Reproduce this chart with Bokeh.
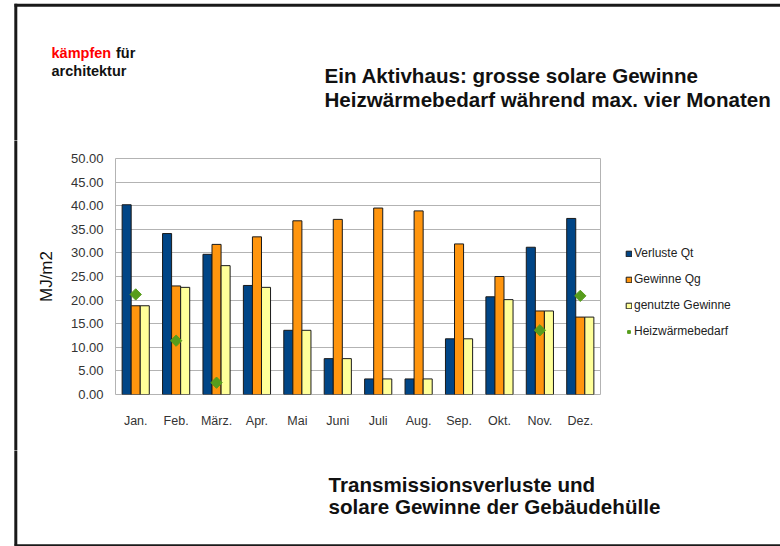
import math
from bokeh.plotting import figure
from bokeh.layouts import column, row
from bokeh.models import (FactorRange, Range1d, Legend, LegendItem,
                          NumeralTickFormatter, SingleIntervalTicker)
from bokeh.core.properties import value
from bokeh.transform import dodge
from bokeh.embed import file_html
from bokeh.resources import INLINE

months = ["Jan.", "Feb.", "März.", "Apr.", "Mai", "Juni", "Juli", "Aug.",
          "Sep.", "Okt.", "Nov.", "Dez."]
verluste = [40.2, 34.1, 29.7, 23.1, 13.6, 7.6, 3.3, 3.3, 11.8, 20.7, 31.2, 37.3]
gewinne = [18.8, 23.0, 31.8, 33.4, 36.8, 37.1, 39.5, 38.9, 31.9, 25.0, 17.7, 16.4]
genutzt = [18.8, 22.7, 27.3, 22.7, 13.6, 7.6, 3.3, 3.3, 11.8, 20.1, 17.7, 16.4]
heiz_months = ["Jan.", "Feb.", "März.", "Nov.", "Dez."]
heiz_values = [21.2, 11.4, 2.5, 13.6, 20.9]

series_names = ["Verluste Qt", "Gewinne Qg", "genutzte Gewinne", "Heizwärmebedarf"]
series_colors = ["#004586", "#ff950e", "#ffff99", "#579d1c"]
header_texts = ["kämpfen", "für", "architektur",
                "Ein Aktivhaus: grosse solare Gewinne",
                "Heizwärmebedarf während max. vier Monaten"]
footer_texts = ["Transmissionsverluste und", "solare Gewinne der Gebäudehülle"]

FONT = "Liberation Sans"
BORDER = "#1a1a1a"
BAR_LINE = "#1a1a1a"
BIG = "20.6px"
W = 780
H_HEAD = 140
H_MID = 310
H_FOOT = 96
STRIP = 20
FRAME_L, FRAME_R, FRAME_T, FRAME_B = 115, 600, 158, 394


def canvas_fig(width, height):
    f = figure(width=width, height=height, x_range=Range1d(0, width),
               y_range=Range1d(height, 0), output_backend="svg",
               toolbar_location=None, x_axis_location=None,
               y_axis_location=None, min_border=0, frame_align=False)
    f.grid.visible = False
    f.outline_line_color = None
    f.background_fill_color = "white"
    f.border_fill_color = "white"
    return f


# ---- header ----
head = canvas_fig(W, H_HEAD)
head.segment(x0=[14, 15.3], y0=[4.7, 3.2], x1=[W, 15.3], y1=[4.7, H_HEAD + 3],
             line_color=BORDER, line_width=3)
head.text(x=[51], y=[52.3], text=[header_texts[0]], text_font=value(FONT),
          text_font_size=value("14.5px"), text_font_style="bold",
          text_color="#ff0000", text_baseline="alphabetic")
head.text(x=[115.5, 51], y=[52.3, 70.3], text=header_texts[1:3],
          text_font=value(FONT), text_font_size=value("14.5px"),
          text_font_style="bold", text_color="#111111",
          text_baseline="alphabetic")
head.text(x=[324, 324], y=[74.5, 99], text=header_texts[3:5],
          text_font=value(FONT), text_font_size=value(BIG),
          text_font_style="bold", text_color="#111111",
          text_baseline="alphabetic")

# ---- left strip (frame border) ----
strip = canvas_fig(STRIP, H_MID)
strip.segment(x0=[15.3], y0=[-3], x1=[15.3], y1=[H_MID + 3],
              line_color=BORDER, line_width=3)

# ---- chart ----
p = figure(width=FRAME_R + 1 - STRIP, height=H_MID, x_range=FactorRange(*months),
           y_range=Range1d(0, 50), output_backend="svg", toolbar_location=None,
           min_border_left=FRAME_L - STRIP, min_border_right=1,
           min_border_top=FRAME_T - H_HEAD,
           min_border_bottom=H_HEAD + H_MID - FRAME_B, frame_align=False)
p.background_fill_color = "white"
p.border_fill_color = "white"
p.outline_line_color = "#b3b3b3"
p.outline_line_width = 1

bw = 0.224
common = dict(width=bw, line_color=BAR_LINE, line_width=1)
p.vbar(x=dodge("x", -bw, range=p.x_range), top="y",
       source=dict(x=months, y=verluste), fill_color=series_colors[0], **common)
p.vbar(x=dodge("x", 0, range=p.x_range), top="y",
       source=dict(x=months, y=gewinne), fill_color=series_colors[1], **common)
p.vbar(x=dodge("x", bw, range=p.x_range), top="y",
       source=dict(x=months, y=genutzt), fill_color=series_colors[2], **common)
p.scatter(x="x", y="y", source=dict(x=heiz_months, y=heiz_values),
          marker="square", angle=math.pi / 4, size=8,
          fill_color=series_colors[3], line_color=series_colors[3])

p.xgrid.grid_line_color = None
p.ygrid.grid_line_color = "#b3b3b3"
p.ygrid.grid_line_width = 1
p.yaxis.ticker = SingleIntervalTicker(interval=5)
p.yaxis.formatter = NumeralTickFormatter(format="0.00")
for ax in (p.xaxis[0], p.yaxis[0]):
    ax.axis_line_color = None
    ax.major_tick_line_color = None
    ax.major_tick_out = 0
    ax.major_tick_in = 0
    ax.minor_tick_line_color = None
    ax.minor_tick_out = 0
    ax.minor_tick_in = 0
    ax.major_label_text_font = FONT
    ax.major_label_text_color = "#333333"
p.yaxis.major_label_text_font_size = "13px"
p.xaxis.major_label_text_font_size = "12.5px"
p.yaxis.major_label_standoff = 12
p.xaxis.major_label_standoff = 19
p.yaxis.axis_label = "MJ/m2"
p.yaxis.axis_label_text_font = FONT
p.yaxis.axis_label_text_font_size = "17px"
p.yaxis.axis_label_text_font_style = "normal"
p.yaxis.axis_label_text_color = "#111111"
p.yaxis.axis_label_standoff = 12

# ---- legend panel (hidden proxy renderers carry the series styles) ----
LEG_W = W - FRAME_R - 1
leg = canvas_fig(LEG_W, H_MID)
idx = list(range(len(months)))
l1 = leg.vbar(x=idx, top=verluste, width=0.2, fill_color=series_colors[0],
              line_color=BAR_LINE, visible=False)
l2 = leg.vbar(x=idx, top=gewinne, width=0.2, fill_color=series_colors[1],
              line_color=BAR_LINE, visible=False)
l3 = leg.vbar(x=idx, top=genutzt, width=0.2, fill_color=series_colors[2],
              line_color=BAR_LINE, visible=False)
l4 = leg.scatter(x=list(range(len(heiz_values))), y=heiz_values,
                 marker="square", angle=math.pi / 4, size=7,
                 fill_color=series_colors[3], line_color=series_colors[3],
                 visible=False)
legend = Legend(items=[LegendItem(label=series_names[0], renderers=[l1]),
                       LegendItem(label=series_names[1], renderers=[l2]),
                       LegendItem(label=series_names[2], renderers=[l3]),
                       LegendItem(label=series_names[3], renderers=[l4])],
                location=(625 - (FRAME_R + 1), (H_HEAD + H_MID) - 338),
                orientation="vertical",
                glyph_width=7, glyph_height=7, label_standoff=2,
                label_height=14, spacing=12, padding=0, margin=0,
                border_line_color=None, background_fill_alpha=0,
                inactive_fill_alpha=0,
                label_text_font=FONT, label_text_font_size="12px",
                label_text_color="#222222")
leg.add_layout(legend, "center")

# ---- footer ----
foot = canvas_fig(W, H_FOOT)
foot.segment(x0=[15.3, 14], y0=[-3, 95.3], x1=[15.3, W], y1=[95.3, 95.3],
             line_color=BORDER, line_width=3)
foot.text(x=[328, 328], y=[484 - 450, 506 - 450], text=footer_texts,
          text_font=value(FONT), text_font_size=value(BIG),
          text_font_style="bold", text_color="#111111",
          text_baseline="alphabetic")

layout = column(head, row(strip, p, leg, spacing=0), foot, spacing=0)
open("out.html", "w").write(file_html(layout, INLINE))
